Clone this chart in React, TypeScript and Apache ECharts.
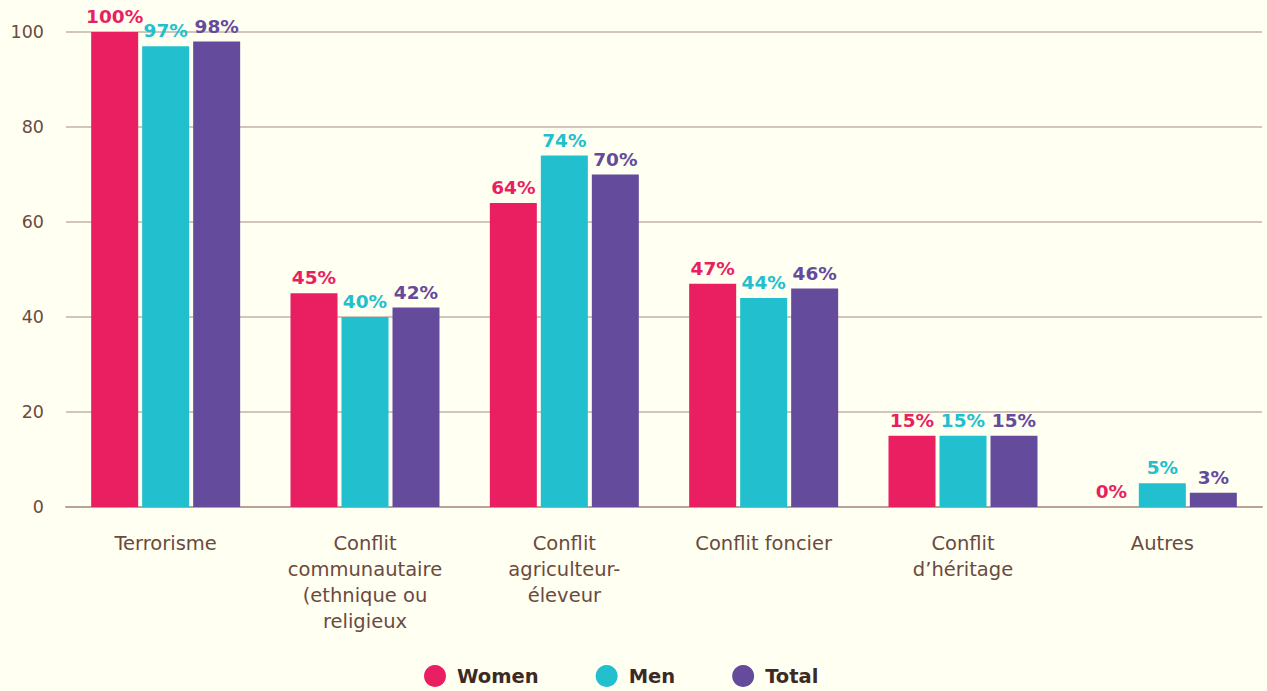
import React, { useEffect, useRef } from "react";
import * as echarts from "echarts";

const categories = [
  "Terrorisme",
  "Conflit\ncommunautaire\n(ethnique ou\nreligieux",
  "Conflit\nagriculteur-\néleveur",
  "Conflit foncier",
  "Conflit\nd’héritage",
  "Autres",
];
const women = [100, 45, 64, 47, 15, 0];
const men = [97, 40, 74, 44, 15, 5];
const total = [98, 42, 70, 46, 15, 3];
const seriesNames = ["Women", "Men", "Total"];
const colors = ["#E91F62", "#22BFCE", "#654B9C"];

export default function App() {
  const ref = useRef<HTMLDivElement>(null);
  useEffect(() => {
    const chart = echarts.init(ref.current!, undefined, { renderer: "svg" });
    const font = "'DejaVu Sans', sans-serif";
    const mk = (name: string, data: number[], color: string) => ({
      name,
      type: "bar",
      data,
      barWidth: 47,
      barGap: "8.5%",
      barCategoryGap: "25%",
      itemStyle: { color },
      label: {
        show: true,
        position: "top",
        distance: 6,
        formatter: "{c}%",
        color,
        fontFamily: font,
        fontWeight: "bold",
        fontSize: 18.5,
      },
    });
    chart.setOption({
      animation: false,
      backgroundColor: "#FFFFF2",
      textStyle: { fontFamily: font },
      legend: {
        top: 660,
        left: 419,
        icon: "circle",
        itemWidth: 22,
        itemHeight: 22,
        itemGap: 57,
        data: seriesNames,
        textStyle: {
          fontSize: 19.5,
          fontWeight: "bold",
          color: "#3D2A25",
          fontFamily: font,
          padding: [0, 0, 0, 6],
        },
      },
      grid: { left: 66, right: 5, top: 32, bottom: 184 },
      xAxis: {
        type: "category",
        data: categories,
        axisLine: { lineStyle: { color: "#B9A297", width: 2 } },
        axisTick: { show: false },
        axisLabel: {
          color: "#6B4A3E",
          fontSize: 19.5,
          lineHeight: 26,
          margin: 23,
          interval: 0,
          fontFamily: font,
        },
      },
      yAxis: {
        type: "value",
        min: 0,
        max: 100,
        interval: 20,
        axisLabel: { color: "#6B4A3E", fontSize: 17.5, margin: 22, fontFamily: font },
        splitLine: { lineStyle: { color: "#C4B2A8", width: 1.5 } },
        axisLine: { show: false },
        axisTick: { show: false },
      },
      series: [
        mk(seriesNames[0], women, colors[0]),
        mk(seriesNames[1], men, colors[1]),
        mk(seriesNames[2], total, colors[2]),
      ],
    });
    return () => chart.dispose();
  }, []);
  return (
    <div
      ref={ref}
      style={{ position: "absolute", left: 0, top: 0, width: 1267, height: 691 }}
    />
  );
}
